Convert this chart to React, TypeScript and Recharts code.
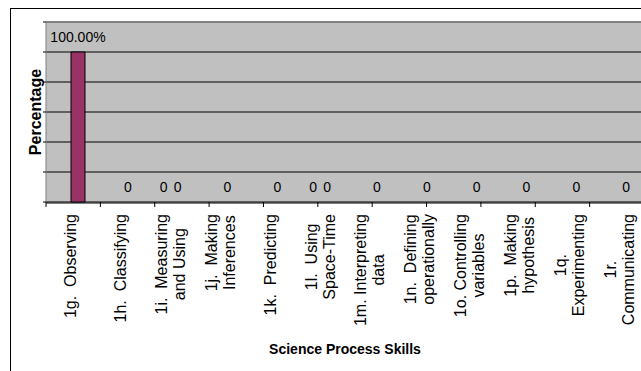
import React from 'react';
import { BarChart, Bar, Cell, XAxis, YAxis, CartesianGrid, LabelList, ReferenceLine } from 'recharts';

const FONT = '"Liberation Sans", Arial, sans-serif';

// categories (x axis) and how each label wraps
const skills = [
    '1g. Observing', '1h. Classifying', '1i. Measuring and Using', '1j. Making Inferences',
    '1k. Predicting', '1l. Using Space-Time', '1m. Interpreting data', '1n. Defining operationally',
    '1o. Controlling variables', '1p. Making hypothesis', '1q. Experimenting', '1r. Communicating',
];
const skillLines = [
    ['1g.  Observing'], ['1h.  Classifying'], ['1i.  Measuring', 'and Using'], ['1j.  Making', 'Inferences'],
    ['1k.  Predicting'], ['1l.  Using', 'Space-Time'], ['1m. Interpreting', 'data'], ['1n.  Defining', 'operationally'],
    ['1o. Controlling', 'variables'], ['1p.  Making', 'hypothesis'], ['1q.', 'Experimenting'], ['1r.', 'Communicating'],
];

// two series, the first one is mostly empty
const seriesA = [null, null, 0, null, null, 0, null, null, null, null, null, null];
const seriesB = [1, 0, 0, 0, 0, 0, 0, 0, 0, 0, 0, 0];

const yTicks = [0, 0.2, 0.4, 0.6, 0.8, 1, 1.2];

const data = skills.map((s, i) => ({ skill: s, a: seriesA[i], b: seriesB[i] }));
const edgeTicks = skills.map((_, i) => i).concat(skills.length);

let ctx: CanvasRenderingContext2D | null = null;
const textWidth = (s: string, size: number) => {
    if (!ctx) ctx = document.createElement('canvas').getContext('2d');
    if (!ctx) return s.length * size * 0.5;
    ctx.font = `${size}px ${FONT}`;
    return ctx.measureText(s).width;
};

const pctLabel = (v: any) => (v == null ? '' : v === 0 ? '0' : `${(v * 100).toFixed(2)}%`);

const NoTick = () => <g />;

const BarValue = ({ viewBox, value }: any) => {
    if (value == null || !viewBox) return null;
    const { x, y, width } = viewBox;
    return (
        <text x={x + width / 2} y={y - 10} textAnchor="middle" fontSize={14} fill="#000">
            {pctLabel(value)}
        </text>
    );
};

const SkillTick = ({ x, y, payload }: any) => {
    const idx = skills.indexOf(payload.value);
    const lines = skillLines[idx] || [payload.value];
    const w = Math.max(...lines.map((l) => textWidth(l, 16)));
    const cy = y + 11 + w / 2;
    return (
        <g transform={`translate(${x},${cy}) rotate(-90)`}>
            {lines.map((l, i) => (
                <text
                    key={i}
                    x={0}
                    y={(i - (lines.length - 1) / 2) * 18}
                    textAnchor="middle"
                    dominantBaseline="central"
                    fontSize={16}
                    fill="#000"
                    style={{ whiteSpace: 'pre' }}
                >
                    {l}
                </text>
            ))}
        </g>
    );
};

export default function App() {
    return (
        <div style={{ position: 'fixed', left: 0, top: 0, width: 641, height: 371, overflow: 'hidden', background: '#fff', fontFamily: FONT }}>
            <div style={{ position: 'absolute', left: 10, top: 8, width: 700, height: 400, border: '1px solid #000' }} />
            <div style={{ position: 'absolute', left: 0, top: 0 }}>
                <BarChart width={700} height={371} data={data} margin={{ top: 22, right: 56, left: 24, bottom: 0 }} barSize={14} barGap={0}>
                    <CartesianGrid vertical={false} fill="#C0C0C0" fillOpacity={1} stroke="#000" />
                    {/* boundary tick marks between categories */}
                    <XAxis
                        xAxisId={0}
                        type="number"
                        domain={[0, skills.length]}
                        ticks={edgeTicks}
                        tick={NoTick}
                        axisLine={false}
                        tickSize={5}
                        tickLine={{ stroke: '#000' }}
                        height={1}
                        allowDataOverflow
                    />
                    <XAxis
                        xAxisId="cat"
                        dataKey="skill"
                        height={168}
                        interval={0}
                        tickSize={0}
                        tickMargin={0}
                        tickLine={false}
                        axisLine={{ stroke: '#000' }}
                        tick={<SkillTick />}
                        label={{ value: 'Science Process Skills', position: 'insideBottom', offset: 17, fontSize: 14, fontWeight: 'bold', fill: '#000' }}
                    />
                    <YAxis
                        width={22}
                        domain={[0, 1.2]}
                        ticks={yTicks}
                        tick={NoTick}
                        tickSize={3}
                        tickLine={{ stroke: '#000' }}
                        axisLine={{ stroke: '#808080' }}
                        label={{ value: 'Percentage', angle: -90, position: 'center', fontSize: 16, fontWeight: 'bold', fill: '#000' }}
                    />
                    <ReferenceLine y={1.2} stroke="#808080" strokeWidth={2} />
                    <Bar xAxisId="cat" dataKey="a" fill="#9999FF" stroke="none" minPointSize={0.01} isAnimationActive={false}>
                        <LabelList dataKey="a" content={BarValue} />
                    </Bar>
                    <Bar xAxisId="cat" dataKey="b" fill="#993366" minPointSize={0.01} isAnimationActive={false}>
                        {seriesB.map((v, i) => (
                            <Cell key={i} stroke={v ? '#000' : 'none'} />
                        ))}
                        <LabelList dataKey="b" content={BarValue} />
                    </Bar>
                </BarChart>
            </div>
        </div>
    );
}
